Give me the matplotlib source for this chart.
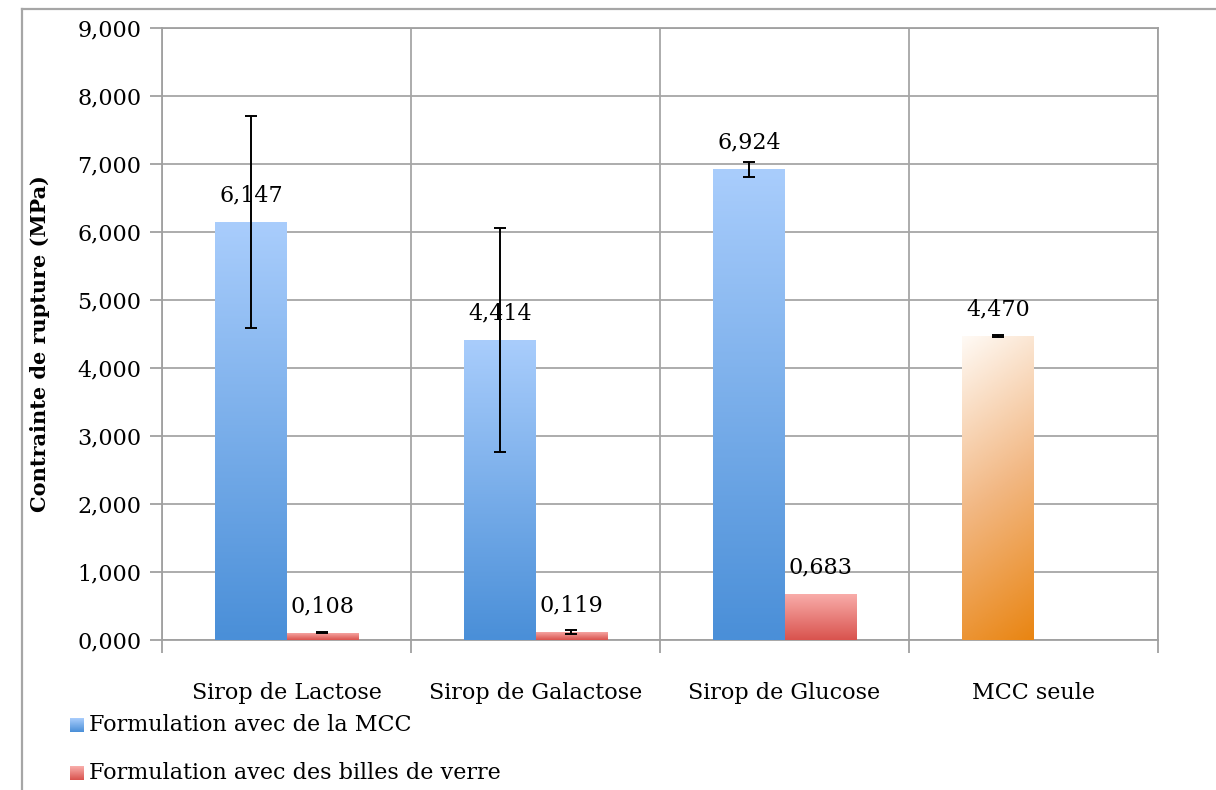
import numpy as np
import matplotlib
matplotlib.use("Agg")
import matplotlib.pyplot as plt
from matplotlib.lines import Line2D
from matplotlib.ticker import FuncFormatter, MultipleLocator
from matplotlib.colors import LinearSegmentedColormap

categories = ["Sirop de Lactose", "Sirop de Galactose", "Sirop de Glucose", "MCC seule"]
series_names = ["Formulation avec de la MCC", "Formulation avec des billes de verre"]
mcc_values = [6.147, 4.414, 6.924, 4.470]
mcc_errors = [1.56, 1.65, 0.11, 0.01]
billes_values = [0.108, 0.119, 0.683, None]
billes_errors = [0.005, 0.03, 0.0, None]
ylabel = "Contrainte de rupture (MPa)"

FONT = "DejaVu Serif"
plt.rcParams['font.family'] = [FONT]

W, H = 1216, 790
fig = plt.figure(figsize=(W / 100, H / 100), dpi=100)
ax = fig.add_axes([162 / W, 1 - 640 / H, (1158 - 162) / W, (640 - 28) / H])

blue_cmap = LinearSegmentedColormap.from_list("b", ["#4a8fd8", "#a9cdfc"])
red_cmap = LinearSegmentedColormap.from_list("r", ["#d9534e", "#f9aeab"])
orange_cmap = LinearSegmentedColormap.from_list("o", ["#e98512", "#f2b884", "#fffaf5"])

bw = 0.286
x = np.arange(len(categories)) + 0.5


def grad_bar(xc, val, cmap, diagonal=False):
    bar = ax.bar(xc, val, width=bw, facecolor="none", edgecolor="none", zorder=3)[0]
    n = 200
    yy = np.linspace(0, 1, n)[:, None]
    if diagonal:
        xx = np.linspace(0, 1, 60)[None, :]
        g = np.clip(yy * 0.85 + (1 - xx) * 0.15, 0, 1)
    else:
        g = np.repeat(yy, 2, axis=1)
    im = ax.imshow(g, cmap=cmap, origin="lower", aspect="auto",
                   extent=[xc - bw / 2, xc + bw / 2, 0, val], zorder=3, vmin=0, vmax=1,
                   interpolation="bilinear")
    im.set_clip_path(bar)
    return bar


for i, (xc, v) in enumerate(zip(x, mcc_values)):
    xb = xc - bw / 2
    if categories[i] == "MCC seule":
        grad_bar(xb, v, orange_cmap, diagonal=True)
    else:
        grad_bar(xb, v, blue_cmap)
    ax.errorbar(xb, v, yerr=mcc_errors[i], fmt="none", ecolor="black",
                elinewidth=1.4, capsize=4.5, capthick=1.4, zorder=5)
    ax.annotate(f"{v:.3f}".replace(".", ","), (xb, v), xytext=(0, 19),
                textcoords="offset points", ha="center", va="center",
                fontsize=16, zorder=6)

for i, (xc, v) in enumerate(zip(x, billes_values)):
    if v is None:
        continue
    xr = xc + bw / 2
    grad_bar(xr, v, red_cmap)
    if billes_errors[i]:
        ax.errorbar(xr, v, yerr=billes_errors[i], fmt="none", ecolor="black",
                    elinewidth=1.4, capsize=4.5, capthick=1.4, zorder=5)
    ax.annotate(f"{v:.3f}".replace(".", ","), (xr, v), xytext=(0, 19),
                textcoords="offset points", ha="center", va="center",
                fontsize=16, zorder=6)

ax.set_xlim(0, len(categories))
ax.set_ylim(0, 9)
ax.yaxis.set_major_locator(MultipleLocator(1))
ax.yaxis.set_major_formatter(FuncFormatter(lambda v, p: f"{v:.3f}".replace(".", ",")))
ax.set_xticks(np.arange(len(categories) + 1))
ax.set_xticks(x, minor=True)
ax.set_xticklabels([])
ax.set_xticklabels(categories, minor=True)
ax.tick_params(axis="x", which="minor", length=0, pad=30, labelsize=16)
ax.tick_params(axis="x", which="major", length=9, width=1.3, color="#a0a0a0")
ax.tick_params(axis="y", length=9, width=1.3, color="#a0a0a0", labelsize=16, pad=6)
ax.grid(True, which="major", color="#a6a6a6", linewidth=1.3, zorder=0)
ax.set_axisbelow(True)
for s in ax.spines.values():
    s.set_color("#a0a0a0")
    s.set_linewidth(1.3)
ax.set_ylabel(ylabel, fontsize=15, fontweight="bold")
ax.yaxis.set_label_coords((50 - 162) / (1158 - 162), (640 - 344) / (640 - 28))

# outer frame (clipped at figure edge)
fig.add_artist(Line2D([22 / W, 1.0], [1 - 9 / H, 1 - 9 / H], color="#a6a6a6", lw=1.6))
fig.add_artist(Line2D([22 / W, 22 / W], [1 - 9 / H, 0.0], color="#a6a6a6", lw=1.6))

# legend
legend_cmaps = [blue_cmap, red_cmap]
legend_y = [725, 773]
for name, cm, yc in zip(series_names, legend_cmaps, legend_y):
    lax = fig.add_axes([70 / W, 1 - (yc + 7) / H, 14 / W, 14 / H])
    lax.imshow(np.linspace(0, 1, 50)[:, None], cmap=cm, origin="lower", aspect="auto")
    lax.set_axis_off()
    fig.text(89 / W, 1 - yc / H, name, fontsize=16, ha="left", va="center")

fig.savefig("out.png", dpi=100)
